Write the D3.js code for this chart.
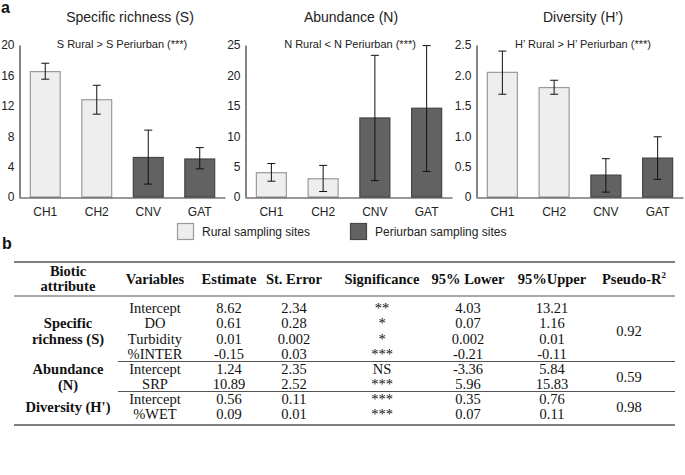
<!DOCTYPE html>
<html>
<head>
<meta charset="utf-8">
<script src="https://cdn.jsdelivr.net/npm/d3@7"></script>
<style>
  html, body { margin: 0; padding: 0; background: #fff; }
  svg { display: block; }
</style>
</head>
<body>
<svg id="chart" width="685" height="475"></svg>
<script>
// ---------------- DATA ----------------
const categories = ["CH1", "CH2", "CNV", "GAT"];
const siteGroup = ["Rural", "Rural", "Periurban", "Periurban"];

const richnessMean = [16.5, 12.8, 5.2, 5.0];
const richnessLow  = [15.5, 10.9, 1.7, 3.7];
const richnessHigh = [17.6, 14.7, 8.8, 6.5];
const richnessTicks = [0, 4, 8, 12, 16, 20];

const abundanceMean = [4.0, 3.0, 13.0, 14.6];
const abundanceLow  = [2.6, 0.9, 2.7, 4.2];
const abundanceHigh = [5.5, 5.2, 23.3, 24.9];
const abundanceTicks = [0, 5, 10, 15, 20, 25];

const diversityMean = [2.05, 1.80, 0.36, 0.64];
const diversityLow  = [1.69, 1.69, 0.08, 0.29];
const diversityHigh = [2.40, 1.92, 0.63, 0.99];
const diversityTicks = [0, 0.5, 1.0, 1.5, 2.0, 2.5];

const panelTitles = ["Specific richness (S)", "Abundance (N)", "Diversity (H\u2019)"];
const panelTests  = ["S Rural > S Periurban (***)", "N Rural < N Periurban (***)", "H\u2019 Rural > H\u2019 Periurban (***)"];
const legendLabels = ["Rural sampling sites", "Periurban sampling sites"];

const tableHeaders = ["Variables", "Estimate", "St. Error", "Significance", "95% Lower", "95%Upper"];
const attributes = ["Specific richness (S)", "Abundance (N)", "Diversity (H')"];
const attributeLines = [["Specific", "richness (S)"], ["Abundance", "(N)"], ["Diversity (H')"]];
const rowAttribute = [0, 0, 0, 0, 1, 1, 2, 2];
const variables   = ["Intercept", "DO", "Turbidity", "%INTER", "Intercept", "SRP", "Intercept", "%WET"];
const estimates   = ["8.62", "0.61", "0.01", "-0.15", "1.24", "10.89", "0.56", "0.09"];
const stdErrors   = ["2.34", "0.28", "0.002", "0.03", "2.35", "2.52", "0.11", "0.01"];
const significance = ["**", "*", "*", "***", "NS", "***", "***", "***"];
const lower95     = ["4.03", "0.07", "0.002", "-0.21", "-3.36", "5.96", "0.35", "0.07"];
const upper95     = ["13.21", "1.16", "0.01", "-0.11", "5.84", "15.83", "0.76", "0.11"];
const pseudoR2    = ["0.92", "0.59", "0.98"];

// ---------------- DRAW ----------------
const svg = d3.select("#chart");
const sans = "'Liberation Sans', Arial, Helvetica, sans-serif";
const serif = "'Liberation Serif', 'Times New Roman', Times, serif";
const fillColor = d3.scaleOrdinal().domain(["Rural", "Periurban"]).range(["#eeeeee", "#626262"]);
const strokeColor = d3.scaleOrdinal().domain(["Rural", "Periurban"]).range(["#9a9a9a", "#454545"]);

svg.append("text").attr("x", 1).attr("y", 13).text("a")
  .attr("font-family", sans).attr("font-weight", "bold").attr("font-size", 16).attr("fill", "#111");
svg.append("text").attr("x", 2).attr("y", 249).text("b")
  .attr("font-family", sans).attr("font-weight", "bold").attr("font-size", 16).attr("fill", "#111");

const panels = [
  { axisX: 19,  width: 206, mean: richnessMean, low: richnessLow, high: richnessHigh, ticks: richnessTicks, fmt: d3.format("d"), titleX: 130, testX: 122 },
  { axisX: 245, width: 207, mean: abundanceMean, low: abundanceLow, high: abundanceHigh, ticks: abundanceTicks, fmt: d3.format("d"), titleX: 351, testX: 350 },
  { axisX: 476, width: 207, mean: diversityMean, low: diversityLow, high: diversityHigh, ticks: diversityTicks, fmt: d => d === 0 ? "0" : d3.format(".1f")(d), titleX: 583, testX: 583 }
];

const yTop = 45, yBase = 197;

panels.forEach((p, i) => {
  const g = svg.append("g");
  const x = d3.scaleBand().domain(categories).range([p.axisX, p.axisX + p.width]).paddingInner(0.42).paddingOuter(0.21);
  const y = d3.scaleLinear().domain([0, p.ticks[p.ticks.length - 1]]).range([yBase, yTop]);

  const rows = categories.map((c, j) => ({ c, g: siteGroup[j], m: p.mean[j], lo: p.low[j], hi: p.high[j] }));

  // bars
  g.selectAll("rect.bar").data(rows).enter().append("rect")
    .attr("class", "bar")
    .attr("x", d => x(d.c) + 0.5)
    .attr("y", d => y(d.m))
    .attr("width", x.bandwidth())
    .attr("height", d => yBase - y(d.m))
    .attr("fill", d => fillColor(d.g))
    .attr("stroke", d => strokeColor(d.g))
    .attr("stroke-width", 1.2);

  // error bars
  const eb = g.selectAll("g.err").data(rows).enter().append("g").attr("class", "err");
  eb.append("line")
    .attr("x1", d => x(d.c) + x.bandwidth() / 2 + 0.5).attr("x2", d => x(d.c) + x.bandwidth() / 2 + 0.5)
    .attr("y1", d => y(d.lo)).attr("y2", d => y(d.hi))
    .attr("stroke", "#111").attr("stroke-width", 1);
  ["lo", "hi"].forEach(k => {
    eb.append("line")
      .attr("x1", d => x(d.c) + x.bandwidth() / 2 - 3.5).attr("x2", d => x(d.c) + x.bandwidth() / 2 + 4.5)
      .attr("y1", d => y(d[k])).attr("y2", d => y(d[k]))
      .attr("stroke", "#111").attr("stroke-width", 1);
  });

  // y axis
  const ya = g.append("g").attr("transform", `translate(${p.axisX + 0.5},0)`)
    .call(d3.axisLeft(y).tickValues(p.ticks).tickFormat(p.fmt).tickSize(0).tickPadding(5));
  ya.select(".domain").attr("stroke", "#333").attr("stroke-width", 1.2);
  ya.selectAll("text").attr("font-family", sans).attr("font-size", 12).attr("fill", "#222");

  // x axis
  const xa = g.append("g").attr("transform", `translate(0,${yBase + 0.5})`)
    .call(d3.axisBottom(x).tickSize(0).tickPadding(9.5));
  xa.select(".domain").attr("stroke", "#333").attr("stroke-width", 1.2);
  xa.selectAll("text").attr("font-family", sans).attr("font-size", 12).attr("fill", "#222")
    .attr("transform", "translate(0.5,0)");

  // titles
  g.append("text").attr("x", p.titleX).attr("y", 22).attr("text-anchor", "middle")
    .attr("font-family", sans).attr("font-size", 14).attr("fill", "#222").text(panelTitles[i]);
  g.append("text").attr("x", p.testX).attr("y", 48).attr("text-anchor", "middle")
    .attr("font-family", sans).attr("font-size", 11).attr("fill", "#222").text(panelTests[i]);
});

// legend
const legendX = [177, 350];
legendLabels.forEach((lab, i) => {
  const grp = i === 0 ? "Rural" : "Periurban";
  svg.append("rect").attr("x", legendX[i] + 0.5).attr("y", 223.5).attr("width", 16).attr("height", 16)
    .attr("fill", fillColor(grp)).attr("stroke", strokeColor(grp)).attr("stroke-width", 1.2);
  svg.append("text").attr("x", legendX[i] + 25).attr("y", 236).text(lab)
    .attr("font-family", sans).attr("font-size", 12).attr("fill", "#222");
});

// ---------------- TABLE ----------------
const tL = 14, tR = 675;
const colX = [155, 229, 294, 382, 468, 552];
const r2X = 629, attrX = 68;
const rowY = [312.5, 328, 343.5, 358.5, 374, 389, 404, 419];
const hline = (y1, x1, x2, w) => svg.append("line").attr("x1", x1).attr("x2", x2).attr("y1", y1).attr("y2", y1)
  .attr("stroke", "#555").attr("stroke-width", w);

hline(262, tL, tR, 1.3);
hline(296, tL, tR, 1.1);
hline(361.5, 118, tR, 1.1);
hline(391.5, 118, tR, 1.1);
hline(425, tL, tR, 1.3);

const tHead = svg.append("g").attr("font-family", serif).attr("font-weight", "bold").attr("font-size", 14.5)
  .attr("fill", "#111").attr("text-anchor", "middle");
tHead.append("text").attr("x", attrX).attr("y", 276).text("Biotic");
tHead.append("text").attr("x", attrX).attr("y", 291).text("attribute");
tableHeaders.forEach((h, i) => tHead.append("text").attr("x", colX[i]).attr("y", 284).text(h));
const pr = tHead.append("text").attr("x", 634).attr("y", 284);
pr.append("tspan").text("Pseudo-R");
pr.append("tspan").attr("font-size", 9).attr("dy", -6).text("2");

const tBody = svg.append("g").attr("font-family", serif).attr("font-size", 14.5)
  .attr("fill", "#111").attr("text-anchor", "middle");
const cols = [variables, estimates, stdErrors, significance, lower95, upper95];
variables.forEach((v, r) => {
  cols.forEach((col, c) => {
    tBody.append("text").attr("x", colX[c]).attr("y", rowY[r]).text(col[r]);
  });
});

// attribute labels and pseudo-R2, centered in their row groups
attributes.forEach((a, k) => {
  const idx = rowAttribute.map((v, i) => v === k ? i : -1).filter(i => i >= 0);
  const mid = (rowY[idx[0]] + rowY[idx[idx.length - 1]]) / 2;
  const lines = attributeLines[k];
  lines.forEach((ln, li) => {
    svg.append("text").attr("x", attrX).attr("y", mid + (li - (lines.length - 1) / 2) * 16)
      .attr("text-anchor", "middle").attr("font-family", serif).attr("font-weight", "bold")
      .attr("font-size", 14.5).attr("fill", "#111").text(ln);
  });
  tBody.append("text").attr("x", r2X).attr("y", mid).text(pseudoR2[k]);
});
</script>
</body>
</html>
